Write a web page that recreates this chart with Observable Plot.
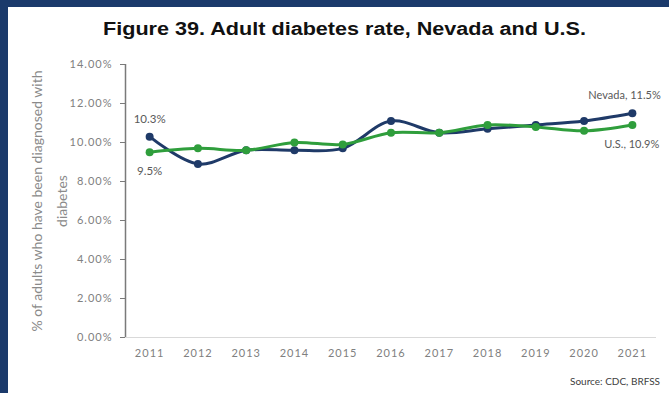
<!DOCTYPE html>
<html><head><meta charset="utf-8">
<script src="https://cdn.jsdelivr.net/npm/d3@7"></script>
<script src="https://cdn.jsdelivr.net/npm/@observablehq/plot@0.6"></script>
<style>
html,body{margin:0;padding:0;background:#1b3a6b;width:669px;height:393px;overflow:hidden}
#frame{position:absolute;left:8px;top:7px;width:661px;height:386px;background:#fff;overflow:hidden}
#title{position:absolute;left:6px;top:12px;width:661px;text-align:center;font:bold 18px "Liberation Sans",Arial,sans-serif;color:#111;transform:scaleX(1.2);transform-origin:center;white-space:nowrap}
#chart{position:absolute;left:0;top:43px}
#source{position:absolute;right:9px;top:368px;font:10px Lato,sans-serif;color:#404040}
#chart svg g[aria-label="y-axis tick label"] text,#chart svg g[aria-label="x-axis tick label"] text{fill:#808080;letter-spacing:1px}
</style></head><body>
<div id="frame"><div id="title">Figure 39. Adult diabetes rate, Nevada and U.S.</div><div id="chart"></div><div id="source">Source: CDC, BRFSS</div></div>
<script>
const years = [2011, 2012, 2013, 2014, 2015, 2016, 2017, 2018, 2019, 2020, 2021];
const nevada = [10.3, 8.9, 9.6, 9.6, 9.7, 11.1, 10.5, 10.7, 10.9, 11.1, 11.5];
const us = [9.5, 9.7, 9.6, 10.0, 9.9, 10.5, 10.5, 10.9, 10.8, 10.6, 10.9];
const yTicks = [0, 2, 4, 6, 8, 10, 12, 14];
const seriesNames = ["Nevada", "U.S."];
const seriesColors = ["#1f3a68", "#2f9e3c"];
const yLabel = "% of adults who have been diagnosed with\ndiabetes";

const nvData = years.map((year, i) => ({year, value: nevada[i], series: seriesNames[0]}));
const usData = years.map((year, i) => ({year, value: us[i], series: seriesNames[1]}));
const first = arr => [arr[0]];
const last = arr => [arr[arr.length - 1]];

const chart = Plot.plot({
  width: 661, height: 320,
  marginLeft: 117, marginRight: 13, marginTop: 14, marginBottom: 33,
  style: {fontFamily: "Lato, sans-serif", fontSize: "11px", background: "white"},
  x: {type: "linear", domain: [years[0] - 0.5, years[years.length - 1] + 0.5]},
  y: {domain: [yTicks[0], yTicks[yTicks.length - 1]]},
  marks: [
    Plot.ruleY([0], {stroke: "#d9d9d9", strokeWidth: 1}),
    Plot.ruleX([years[0] - 0.5], {stroke: "#7a7a7a", strokeWidth: 1.5}),
    Plot.axisY({ticks: yTicks, tickFormat: d => d.toFixed(2) + "%", tickSize: 5, tickPadding: 8, stroke: "#7a7a7a", label: null}),
    Plot.axisX({ticks: years, tickFormat: d => String(d), tickSize: 0, tickPadding: 12, label: null}),
    Plot.text([yLabel], {frameAnchor: "left", textAnchor: "middle", lineAnchor: "middle", dx: -79, rotate: -90, lineHeight: 1.75, fontSize: 14, fill: "#8a8a8a", text: d => d}),
    Plot.line(nvData, {x: "year", y: "value", stroke: seriesColors[0], strokeWidth: 3, curve: "catmull-rom"}),
    Plot.dot(nvData, {x: "year", y: "value", fill: seriesColors[0], r: 4}),
    Plot.line(usData, {x: "year", y: "value", stroke: seriesColors[1], strokeWidth: 3, curve: "catmull-rom"}),
    Plot.dot(usData, {x: "year", y: "value", fill: seriesColors[1], r: 4}),
    Plot.text(first(nvData), {x: "year", y: "value", text: d => d.value.toFixed(1) + "%", dy: -17, fill: "#595959", fontSize: 11.5}),
    Plot.text(first(usData), {x: "year", y: "value", text: d => d.value.toFixed(1) + "%", dy: 19, fill: "#595959", fontSize: 11.5}),
    Plot.text(last(nvData), {x: "year", y: "value", text: d => `${d.series}, ${d.value.toFixed(1)}%`, textAnchor: "start", dx: -44, dy: -18, fill: "#595959", fontSize: 11}),
    Plot.text(last(usData), {x: "year", y: "value", text: d => `${d.series}, ${d.value.toFixed(1)}%`, textAnchor: "start", dx: -28, dy: 20, fill: "#595959", fontSize: 11})
  ]
});
document.getElementById("chart").appendChild(chart);
</script>
</body></html>
